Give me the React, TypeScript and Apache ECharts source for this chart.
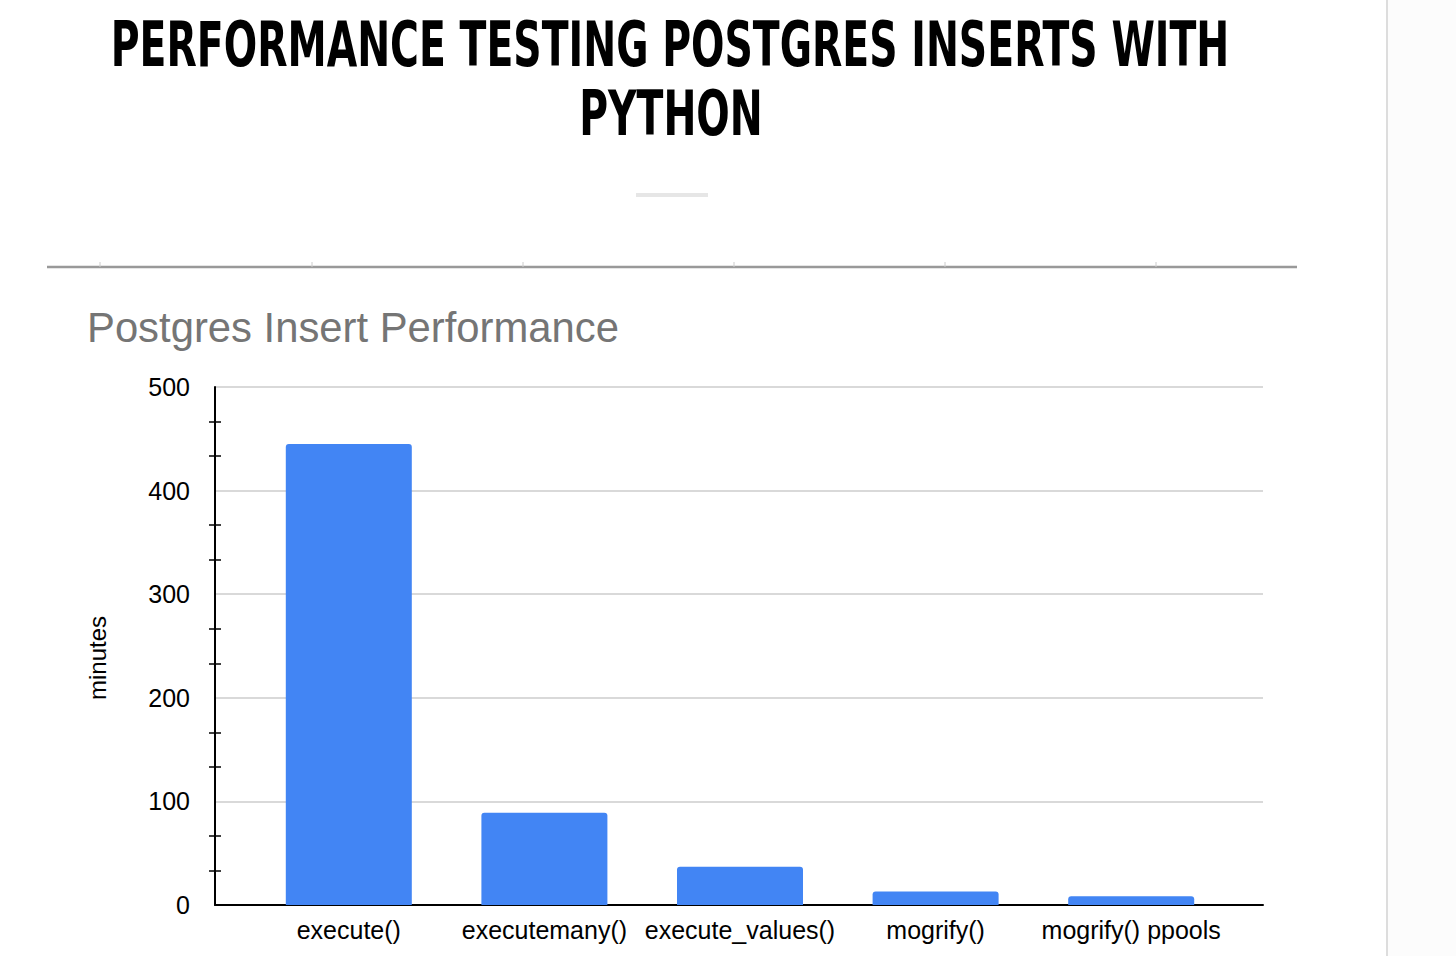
import React, { useEffect, useRef } from "react";
import * as echarts from "echarts";

const pageTitleLines = ["PERFORMANCE TESTING POSTGRES INSERTS WITH", "PYTHON"];
const chartTitle = "Postgres Insert Performance";
const axisName = "minutes";
const categories = ["execute()", "executemany()", "execute_values()", "mogrify()", "mogrify() ppools"];
const minutes = [445, 89, 37, 13, 8.5];
const yMin = 0;
const yMax = 500;
const yStep = 100;

const SANS = "'Liberation Sans', Arial, Helvetica, sans-serif";
const CONDENSED = "'DejaVu Sans Condensed', 'Liberation Sans Narrow', sans-serif";

export default function App() {
  const ref = useRef<HTMLDivElement>(null);
  useEffect(() => {
    if (!ref.current) return;
    const chart = echarts.init(ref.current, undefined, { renderer: "svg" });
    const ruleTicks = [100, 312, 523, 734, 945, 1156];
    const option: any = {
      animation: false,
      backgroundColor: "#ffffff",
      textStyle: { fontFamily: SANS },
      grid: [
        { left: 215, right: 193, top: 387, bottom: 51, containLabel: false },
        { left: 251, right: 227, top: 387, bottom: 51, containLabel: false },
      ],
      xAxis: [
        {
          gridIndex: 0,
          type: "value",
          min: 0,
          max: 1,
          axisLine: { show: true, lineStyle: { color: "#000", width: 2 } },
          axisTick: { show: false },
          axisLabel: { show: false },
          splitLine: { show: false },
        },
        {
          gridIndex: 1,
          type: "category",
          data: categories,
          axisLine: { show: false },
          axisTick: { show: false },
          axisLabel: { interval: 0, fontSize: 25, color: "#000", margin: 12, fontFamily: SANS },
          splitLine: { show: false },
        },
      ],
      yAxis: [
        {
          gridIndex: 0,
          type: "value",
          position: "left",
          min: yMin,
          max: yMax,
          interval: yStep,
          axisLine: { show: true, lineStyle: { color: "#000", width: 2 } },
          axisTick: { show: false, inside: false },
          minorTick: { show: true, splitNumber: 3, length: 6, lineStyle: { color: "#000", width: 1.5 } },
          axisLabel: { fontSize: 25, color: "#000", margin: 25, fontFamily: SANS },
          splitLine: { show: true, lineStyle: { color: "#cccccc", width: 1.5 } },
        },
        {
          gridIndex: 0,
          type: "value",
          position: "left",
          offset: 0,
          min: yMin,
          max: yMax,
          interval: yStep,
          axisLine: { show: false },
          axisTick: { show: false, inside: true },
          minorTick: { show: true, splitNumber: 3, length: 6, lineStyle: { color: "#000", width: 1.5 } },
          axisLabel: { show: false },
          splitLine: { show: false },
        },
        {
          gridIndex: 1,
          type: "value",
          min: yMin,
          max: yMax,
          show: false,
        },
      ],
      series: [
        {
          type: "bar",
          xAxisIndex: 1,
          yAxisIndex: 2,
          data: minutes,
          barWidth: 126,
          itemStyle: { color: "#4285f4", borderRadius: [3, 3, 0, 0] },
        },
      ],
      graphic: [
        {
          type: "rect",
          shape: { x: 1388, y: 0, width: 68, height: 956 },
          style: { fill: "#fcfcfc" },
          silent: true,
        },
        {
          type: "line",
          shape: { x1: 1387, y1: 0, x2: 1387, y2: 956 },
          style: { stroke: "#dddddd", lineWidth: 2 },
          silent: true,
        },
        {
          type: "text",
          x: 670,
          y: 45,
          scaleX: 0.706,
          style: {
            text: pageTitleLines[0],
            fontFamily: CONDENSED,
            fontWeight: "bold",
            fontSize: 62,
            fill: "#000",
            align: "center",
            verticalAlign: "middle",
          },
        },
        {
          type: "text",
          x: 671,
          y: 114,
          scaleX: 0.706,
          style: {
            text: pageTitleLines[1],
            fontFamily: CONDENSED,
            fontWeight: "bold",
            fontSize: 62,
            fill: "#000",
            align: "center",
            verticalAlign: "middle",
          },
        },
        {
          type: "rect",
          shape: { x: 636, y: 193, width: 72, height: 4 },
          style: { fill: "#e6e6e6" },
          silent: true,
        },
        {
          type: "line",
          shape: { x1: 47, y1: 267, x2: 1297, y2: 267 },
          style: { stroke: "#999999", lineWidth: 2.5 },
          silent: true,
        },
        ...ruleTicks.map((x) => ({
          type: "line",
          shape: { x1: x, y1: 262, x2: x, y2: 267 },
          style: { stroke: "#cccccc", lineWidth: 1 },
          silent: true,
        })),
        {
          type: "text",
          x: 87,
          y: 327,
          style: {
            text: chartTitle,
            fontFamily: SANS,
            fontSize: 41.8,
            fill: "#757575",
            align: "left",
            verticalAlign: "middle",
          },
        },
        {
          type: "text",
          x: 97,
          y: 658,
          rotation: Math.PI / 2,
          style: {
            text: axisName,
            fontFamily: SANS,
            fontSize: 24,
            fill: "#000",
            align: "center",
            verticalAlign: "middle",
          },
        },
      ],
    };
    chart.setOption(option);
    return () => chart.dispose();
  }, []);
  return (
    <div
      ref={ref}
      style={{ position: "absolute", left: 0, top: 0, width: 1456, height: 956 }}
    />
  );
}
